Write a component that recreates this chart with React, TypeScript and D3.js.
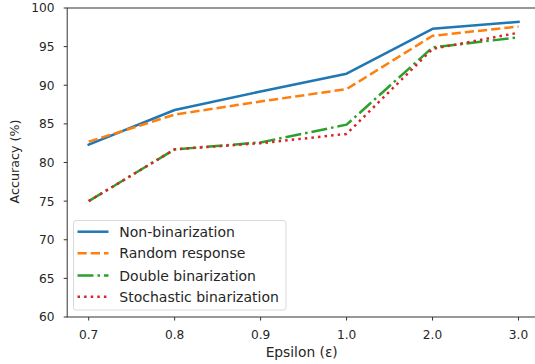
import React from "react";
import * as d3 from "d3";

const categories = ["0.7", "0.8", "0.9", "1.0", "2.0", "3.0"];
const nonBinarization = [82.3, 86.8, 89.2, 91.5, 97.3, 98.2];
const randomResponse = [82.7, 86.2, 87.9, 89.5, 96.4, 97.6];
const doubleBinarization = [75.0, 81.7, 82.6, 84.9, 94.9, 96.2];
const stochasticBinarization = [75.0, 81.7, 82.5, 83.7, 94.7, 96.8];
const yTicks = [60, 65, 70, 75, 80, 85, 90, 95, 100];

const series = [
  { name: "Non-binarization", values: nonBinarization, color: "#1f77b4", dash: "" },
  { name: "Random response", values: randomResponse, color: "#ff7f0e", dash: "9.25,4" },
  { name: "Double binarization", values: doubleBinarization, color: "#2ca02c", dash: "16,4,2.5,4" },
  { name: "Stochastic binarization", values: stochasticBinarization, color: "#d62728", dash: "2.5,4.1" },
];

export default function App() {
  const W = 535, H = 364;
  const left = 67.2, right = 540, top = 8, bottom = 317;
  const x = d3.scaleLinear().domain([-0.25, categories.length - 0.75]).range([left, right]);
  const y = d3.scaleLinear().domain([60, 100]).range([bottom, top]);
  const line = d3.line<number>().x((_, i) => x(i)).y((d) => y(d));
  const font = "DejaVu Sans, sans-serif";
  const legX = 73.5, legY = 220.5, legW = 212.5, legH = 89.5;
  const rowY = [231.7, 253.3, 275.5, 296.7];
  return (
    <svg width={W} height={H} style={{ position: "absolute", left: 0, top: 0 }} fontFamily={font}>
      <rect x={0} y={0} width={W} height={H} fill="#fff" />
      <clipPath id="pc"><rect x={left} y={top} width={right - left} height={bottom - top} /></clipPath>
      <g clipPath="url(#pc)">
        {series.map((s) => (
          <path key={s.name} d={line(s.values) || ""} fill="none" stroke={s.color} strokeWidth={2.5}
            strokeDasharray={s.dash || undefined} strokeLinecap={s.dash ? "butt" : "square"} strokeLinejoin="round" />
        ))}
      </g>
      {/* spines */}
      <rect x={left} y={top} width={right - left} height={bottom - top} fill="none" stroke="#333" strokeWidth={1} />
      {/* y ticks */}
      {yTicks.map((t) => (
        <g key={t}>
          <line x1={left - 3.5} x2={left} y1={y(t)} y2={y(t)} stroke="#333" strokeWidth={1} />
          <text x={54.5} y={y(t)} dy="0.36em" textAnchor="end" fontSize={12.2} fill="#262626">{t}</text>
        </g>
      ))}
      {categories.map((c, i) => (
        <g key={c}>
          <line x1={x(i)} x2={x(i)} y1={bottom} y2={bottom + 3.5} stroke="#333" strokeWidth={1} />
          <text x={x(i)} y={339} textAnchor="middle" fontSize={12.2} fill="#262626">{c}</text>
        </g>
      ))}
      <text x={301.7} y={357} textAnchor="middle" fontSize={13.8} fill="#262626">Epsilon (ε)</text>
      <text transform={`translate(19,${161.5}) rotate(-90)`} textAnchor="middle" fontSize={12.7} fill="#262626">Accuracy (%)</text>
      {/* legend */}
      <rect x={legX} y={legY} width={legW} height={legH} rx={2.5} fill="#fff" fillOpacity={0.8} stroke="#d9d9d9" strokeWidth={1} />
      {series.map((s, i) => (
        <g key={s.name}>
          <line x1={77.5} x2={108.5} y1={rowY[i]} y2={rowY[i]} stroke={s.color} strokeWidth={2.5}
            strokeDasharray={s.dash || undefined} />
          <text x={119.3} y={rowY[i]} dy="0.36em" fontSize={14} fill="#262626">{s.name}</text>
        </g>
      ))}
    </svg>
  );
}
